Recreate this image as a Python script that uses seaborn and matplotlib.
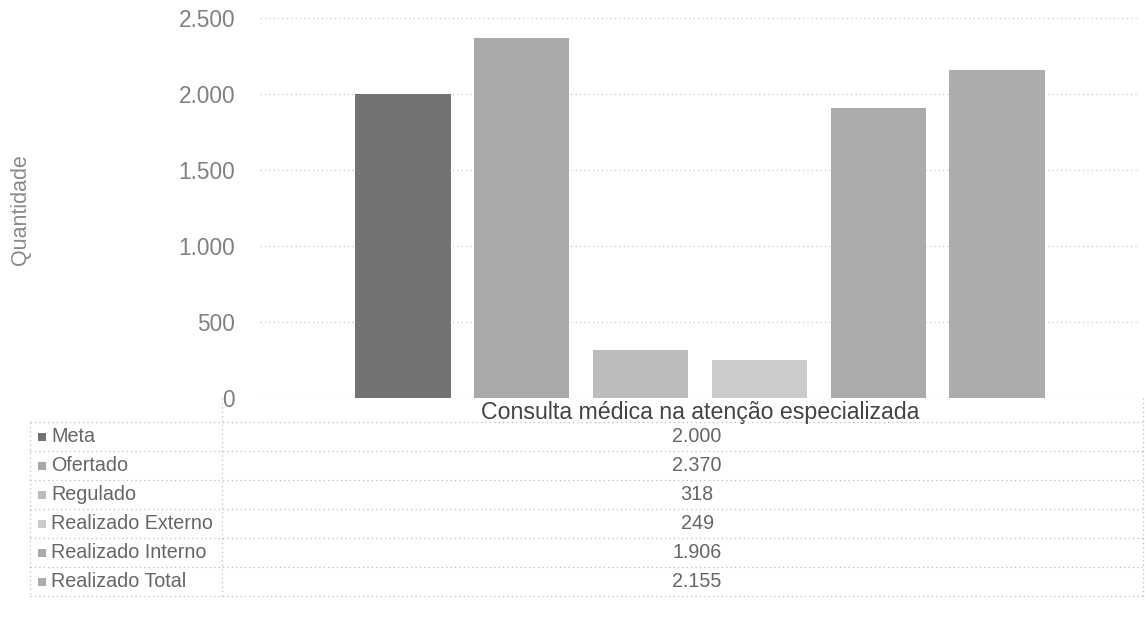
import matplotlib
matplotlib.use("Agg")
import matplotlib.pyplot as plt
from matplotlib.lines import Line2D
from matplotlib.patches import Rectangle
import seaborn as sns
import pandas as pd

# ---- data ----
categoria = ["Consulta médica na atenção especializada"]
series = ["Meta", "Ofertado", "Regulado", "Realizado Externo", "Realizado Interno", "Realizado Total"]
valores = [2000, 2370, 318, 249, 1906, 2155]
yticks = [0, 500, 1000, 1500, 2000, 2500]
ytick_labels = ["0", "500", "1.000", "1.500", "2.000", "2.500"]
valor_labels = ["2.000", "2.370", "318", "249", "1.906", "2.155"]

cores = ["#737373", "#a9a9a9", "#bcbcbc", "#cbcbcb", "#ababab", "#acacac"]

df = pd.DataFrame({"cat": categoria * len(series), "serie": series, "val": valores})

sns.set_theme(style="white")
plt.rcParams["font.family"] = ["Liberation Sans", "DejaVu Sans"]

W, H = 1145, 634
fig = plt.figure(figsize=(W / 100, H / 100), dpi=100)
ax_left, ax_right, ax_bot, ax_top = 260, 1140, 398, 18
ax = fig.add_axes([ax_left / W, 1 - ax_bot / H, (ax_right - ax_left) / W, (ax_bot - ax_top) / H])

sns.barplot(data=df, x="cat", y="val", hue="serie", hue_order=series, palette=cores,
            width=0.81, gap=0.2, saturation=1, legend=False, ax=ax, linewidth=0)

ax.set_ylim(0, 2500)
ax.set_xlim(-0.5, 0.5)
ax.set_yticks(yticks)
ax.set_yticklabels(ytick_labels, fontsize=16.3, color="#808080")
ax.tick_params(axis="y", length=0, pad=18)
ax.tick_params(axis="x", length=0, pad=2)
for lbl in ax.get_xticklabels():
    lbl.set_fontsize(16.7)
    lbl.set_color("#444444")
ax.set_xlabel("")
ax.set_ylabel("")
for s in ax.spines.values():
    s.set_visible(False)
ax.grid(axis="y", color="#c8c8c8", linestyle=(0, (1, 2.5)), linewidth=0.9)
ax.set_axisbelow(True)

# ---- helpers for figure pixel coords ----
def fx(x):
    return x / W

def fy(y):
    return 1 - y / H

fig.text(fx(21), fy(210), "Quantidade", rotation=90, fontsize=15.5, color="#8a8a8a",
         ha="center", va="center")

# ---- data table ----
line_kw = dict(color="#bdbdbd", linestyle=(0, (1, 2.5)), linewidth=0.9, transform=fig.transFigure)
row_lines = [422, 451, 480, 509, 538, 567, 596]
tab_left, tab_mid, tab_right = 30, 222, 1143
for yy in row_lines:
    fig.add_artist(Line2D([fx(tab_left), fx(tab_right)], [fy(yy), fy(yy)], **line_kw))
fig.add_artist(Line2D([fx(tab_left), fx(tab_left)], [fy(row_lines[0]), fy(row_lines[-1])], **line_kw))
fig.add_artist(Line2D([fx(tab_mid), fx(tab_mid)], [fy(ax_bot), fy(row_lines[-1])], **line_kw))
fig.add_artist(Line2D([fx(tab_right), fx(tab_right)], [fy(ax_bot), fy(row_lines[-1])], **line_kw))

val_x = 697
for i, (nome, lab, cor) in enumerate(zip(series, valor_labels, cores)):
    yc = (row_lines[i] + row_lines[i + 1]) / 2
    fig.add_artist(Rectangle((fx(38), fy(yc + 4)), 8 / W, 8 / H, facecolor=cor,
                             edgecolor="none", transform=fig.transFigure))
    fig.text(fx(51), fy(yc), nome, fontsize=14.2, color="#666666", va="center", ha="left")
    fig.text(fx(val_x), fy(yc), lab, fontsize=14.2, color="#666666", va="center", ha="center")

fig.savefig("out.png", dpi=100, facecolor="white")
